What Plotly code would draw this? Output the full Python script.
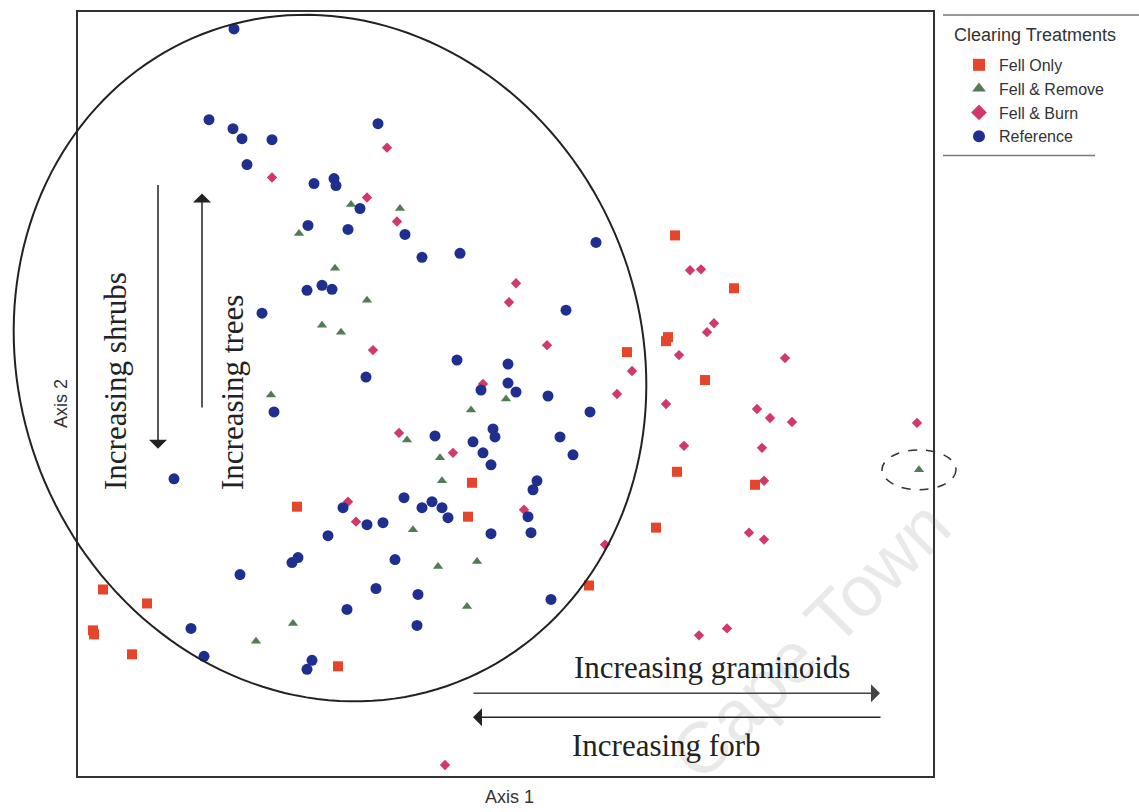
import numpy as np
import plotly.graph_objects as go

# Ordination scores (Axis 1, Axis 2) of each plot, grouped by clearing treatment
fell_only_x = [597, 656, 590, 588, 549, 627, 599, 677, 578, 511, 394, 390, 219, 25, 69, 15, 16, 54, 260]
fell_only_y = [542, 489, 440, 436, 425, 397, 305, 292, 249, 191, 294, 260, 270, 187, 173, 146, 142, 122, 110]

fell_remove_x = [273, 221, 322, 257, 289, 244, 263, 193, 428, 393, 329, 362, 364, 335, 360, 399, 389, 215, 178, 841]
fell_remove_y = [573, 544, 569, 509, 477, 452, 445, 382, 378, 367, 337, 319, 296, 247, 210, 215, 170, 153, 135, 307]

fell_burn_x = [194, 309, 289, 319, 438, 431, 295, 469, 405, 539, 321, 375, 270, 278, 446, 612, 623, 636,
               629, 601, 707, 554, 588, 679, 692, 714, 839, 606, 684, 686, 671, 686, 527, 621, 649, 367]
fell_burn_y = [600, 630, 580, 556, 494, 475, 427, 432, 393, 383, 344, 324, 275, 255, 267, 507, 508, 454,
               445, 422, 419, 406, 373, 368, 359, 355, 354, 331, 329, 296, 244, 237, 232, 141, 148, 11]

reference_x = [156, 131, 155, 164, 194, 169, 236, 256, 258, 282, 230, 270, 300, 327, 344, 382, 518, 488,
               229, 244, 254, 184, 288, 196, 96, 265, 289, 305, 250, 379, 430, 403, 430, 438, 470, 512,
               357, 415, 417, 395, 482, 405, 413, 495, 459, 455, 326, 344, 354, 364, 370, 450, 413, 453,
               214, 220, 162, 317, 298, 340, 269, 113, 126, 234, 229, 339, 473]
reference_y = [749, 658, 649, 639, 638, 613, 594, 599, 592, 569, 552, 548, 654, 543, 520, 524, 535, 467,
               487, 492, 488, 464, 400, 365, 298, 269, 252, 254, 241, 417, 413, 387, 394, 385, 381, 365,
               341, 348, 340, 335, 340, 324, 312, 322, 296, 287, 279, 269, 275, 269, 259, 260, 243, 244,
               214, 219, 202, 217, 188, 182, 167, 148, 120, 116, 107, 151, 177]

treatments = ["Fell Only", "Fell & Remove", "Fell & Burn", "Reference"]

X_RANGE = (0, 855)
Y_RANGE = (0, 766)


def paper_x(v):
    return (v - X_RANGE[0]) / (X_RANGE[1] - X_RANGE[0])


def paper_y(v):
    return (v - Y_RANGE[0]) / (Y_RANGE[1] - Y_RANGE[0])


fig = go.Figure()

series = [
    (fell_only_x, fell_only_y, "square", "#E5452A", 10),
    (fell_remove_x, fell_remove_y, "triangle-up", "#527C55", 9),
    (fell_burn_x, fell_burn_y, "diamond", "#D2386A", 8),
    (reference_x, reference_y, "circle", "#1F2F90", 11),
]
for name, (xs, ys, sym, col, size) in zip(treatments, series):
    fig.add_trace(go.Scatter(
        x=xs, y=ys, mode="markers", name=name, cliponaxis=False,
        marker=dict(symbol=sym, color=col, size=size, line=dict(width=0)),
    ))

# Large tilted ellipse enclosing the reference cluster
cx, cy, a, b, phi = 252, 419, 349, 311, np.deg2rad(-68.6)
t = np.linspace(0, 2 * np.pi, 181)
ex = cx + a * np.cos(phi) * np.cos(t) - b * np.sin(phi) * np.sin(t)
ey = cy + a * np.sin(phi) * np.cos(t) + b * np.cos(phi) * np.sin(t)
path = "M " + " L ".join(f"{paper_x(u):.5f},{paper_y(v):.5f}" for u, v in zip(ex, ey)) + " Z"

shapes = [
    dict(type="path", xref="paper", yref="paper", path=path,
         line=dict(color="#222222", width=2)),
    # dashed ring around the outlying plot
    dict(type="circle", xref="paper", yref="paper",
         x0=paper_x(841 - 37), x1=paper_x(841 + 37),
         y0=paper_y(307 - 20), y1=paper_y(307 + 20),
         line=dict(color="#333333", width=1.5, dash="dash")),
    # legend frame rules
    dict(type="line", xref="paper", yref="paper",
         x0=paper_x(865), x1=paper_x(1061), y0=paper_y(763), y1=paper_y(763),
         line=dict(color="#777777", width=1.5)),
    dict(type="line", xref="paper", yref="paper",
         x0=paper_x(865), x1=paper_x(1017), y0=paper_y(622), y1=paper_y(622),
         line=dict(color="#777777", width=1.5)),
]

serif = dict(family="Liberation Serif, Times New Roman, serif", size=31, color="#222222")
sans = dict(family="Liberation Sans, Arial, sans-serif", size=18, color="#333333")

arrow = dict(xref="x", yref="y", axref="x", ayref="y", text="", showarrow=True,
             arrowhead=1, arrowsize=2, arrowwidth=1.5)

annotations = [
    dict(text="Cape Town", x=732, y=136, xref="x", yref="y", showarrow=False,
         textangle=-45, font=dict(family="Liberation Sans, Arial, sans-serif", size=72,
                                  color="rgba(120,120,120,0.16)")),
    # gradient arrows
    dict(x=80, y=328, ax=80, ay=594, arrowcolor="#222222", **arrow),
    dict(x=124, y=584, ax=124, ay=368, arrowcolor="#222222", **arrow),
    dict(x=802, y=83, ax=394, ay=83, arrowcolor="#444444", **arrow),
    dict(x=395, y=59, ax=804, ay=59, arrowcolor="#222222", **arrow),
    dict(text="Increasing shrubs", x=37, y=396, xref="x", yref="y", showarrow=False,
         textangle=-90, font=serif),
    dict(text="Increasing trees", x=154, y=384, xref="x", yref="y", showarrow=False,
         textangle=-90, font=serif),
    dict(text="Increasing graminoids", x=494, y=109, xref="x", yref="y", showarrow=False,
         xanchor="left", font=serif),
    dict(text="Increasing forb", x=492, y=31, xref="x", yref="y", showarrow=False,
         xanchor="left", font=serif),
    dict(text="Axis 1", x=paper_x(431), y=paper_y(-21), xref="paper", yref="paper",
         showarrow=False, xanchor="center", yanchor="middle", font=sans),
    dict(text="Axis 2", x=paper_x(-17), y=paper_y(373), xref="paper", yref="paper",
         showarrow=False, textangle=-90, xanchor="center", yanchor="middle", font=sans),
    dict(text="Clearing Treatments", x=paper_x(874), y=paper_y(743), xref="paper", yref="paper",
         showarrow=False, xanchor="left", yanchor="middle", font=sans),
]

axis_style = dict(showgrid=False, zeroline=False, showticklabels=False, ticks="",
                  showline=True, mirror=True, linecolor="#333333", linewidth=1.5)

fig.update_layout(
    width=1139, height=812, autosize=False,
    margin=dict(l=78, r=206, t=10, b=36),
    paper_bgcolor="white", plot_bgcolor="white",
    xaxis=dict(range=list(X_RANGE), **axis_style),
    yaxis=dict(range=list(Y_RANGE), **axis_style),
    shapes=shapes,
    annotations=annotations,
    legend=dict(
        font=dict(family="Liberation Sans, Arial, sans-serif", size=16, color="#333333"),
        x=paper_x(881), y=paper_y(730), xanchor="left", yanchor="top",
        bgcolor="rgba(0,0,0,0)", itemsizing="constant", tracegroupgap=0,
    ),
)

fig.write_html("out.html")
